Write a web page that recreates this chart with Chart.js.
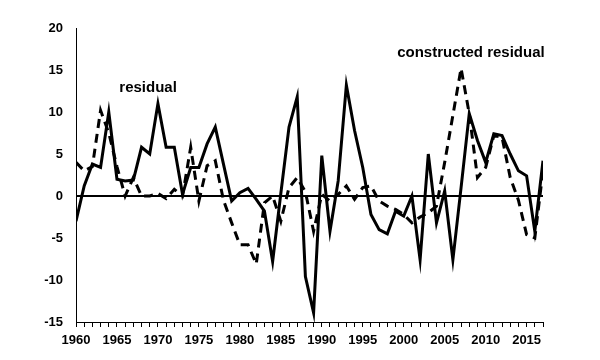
<!DOCTYPE html>
<html>
<head>
<meta charset="utf-8">
<script src="https://cdn.jsdelivr.net/npm/chart.js@4/dist/chart.umd.min.js"></script>
<style>
  html, body { margin: 0; padding: 0; background: #fff; }
  #wrap { width: 600px; height: 360px; }
</style>
</head>
<body>
<div id="wrap"><canvas id="residual-chart"></canvas></div>
<script>
// years on the x axis
let years = [1960,1961,1962,1963,1964,1965,1966,1967,1968,1969,
             1970,1971,1972,1973,1974,1975,1976,1977,1978,1979,
             1980,1981,1982,1983,1984,1985,1986,1987,1988,1989,
             1990,1991,1992,1993,1994,1995,1996,1997,1998,1999,
             2000,2001,2002,2003,2004,2005,2006,2007,2008,2009,
             2010,2011,2012,2013,2014,2015,2016,2017];
// residual (solid line)
let residual = [-3, 1.2, 3.8, 3.4, 10, 2.0, 1.8, 1.9, 5.8, 5,
                11, 5.8, 5.8, 0.2, 3.4, 3.4, 6.2, 8.2, 3.8, -0.6,
                0.4, 0.9, -0.4, -1.8, -7.8, 0.3, 8.2, 11.8, -9.6, -13.9,
                4.8, -4.2, 1.8, 13.2, 7.8, 3.4, -2.2, -4, -4.5, -1.8,
                -2.4, 0, -7.6, 5, -3.2, 0.6, -7.6, 1, 9.8, 6.6,
                4, 7.4, 7.2, 5, 3, 2.4, -4.2, 4.2];
// constructed residual (dashed line)
let constructed = [4, 3, 3.5, 10.2, 7.5, 3.5, 0, 2.2, 0, 0,
                   0.3, -0.3, 0.8, 0, 5.8, -0.6, 3.6, 4.2, -0.5, -3.2,
                   -5.8, -5.8, -8.1, -0.8, 0, -3, 1, 2.2, 0.5, -4.2,
                   0.2, -0.6, 0.2, 1.2, -0.4, 1, 1.2, -0.6, -1.2, -1.6,
                   -2.2, -3.2, -2.5, -2, -1.2, 4, 9.6, 15.2, 9.8, 2.2,
                   3.4, 7.2, 7, 2.2, -0.5, -4.6, -5, 3];
// y axis ticks
let y_min = -15, y_max = 20, y_step = 5;

let font = {family: 'Liberation Sans, Arial, sans-serif', size: 13, weight: 'bold'};

// labels written inside the plot
let text_labels = [
    {text: 'residual', x: 1968.8, y: 12.9},
    {text: 'constructed residual', x: 2008.2, y: 17}
];

let labels_plugin = {
    id: 'textLabels',
    afterDatasetsDraw(chart) {
        let ctx = chart.ctx;
        ctx.save();
        ctx.fillStyle = '#000';
        ctx.font = 'bold 15px Liberation Sans, Arial, sans-serif';
        ctx.textAlign = 'center';
        ctx.textBaseline = 'middle';
        text_labels.forEach(l => {
            ctx.fillText(l.text, chart.scales.x.getPixelForValue(l.x), chart.scales.y.getPixelForValue(l.y));
        });
        ctx.restore();
    }
};

let residual_chart = new Chart(document.getElementById('residual-chart').getContext('2d'), {
    type: 'line',
    data: {
        datasets: [{
            label: 'residual',
            data: years.map((y, i) => ({x: y, y: residual[i]})),
            borderColor: '#000',
            borderWidth: 3,
            pointRadius: 0,
            tension: 0
        }, {
            label: 'constructed residual',
            data: years.map((y, i) => ({x: y, y: constructed[i]})),
            borderColor: '#000',
            borderWidth: 3,
            borderDash: [9, 6],
            pointRadius: 0,
            tension: 0
        }]
    },
    options: {
        responsive: true,
        maintainAspectRatio: false,
        animation: false,
        layout: {padding: {top: 28, right: 57, left: 0, bottom: 0}},
        plugins: {legend: {display: false}, tooltip: {enabled: false}},
        scales: {
            x: {
                type: 'linear',
                min: years[0],
                max: years[years.length - 1],
                afterFit: s => { s.height = 38; },
                border: {color: '#000', width: 1},
                grid: {drawOnChartArea: false, drawTicks: true, tickLength: 5, color: '#000'},
                ticks: {
                    stepSize: 1,
                    autoSkip: false,
                    maxRotation: 0,
                    color: '#000',
                    font: font,
                    padding: 6,
                    callback: v => (v % 5 === 0 ? String(v) : '')
                }
            },
            y: {
                min: y_min,
                max: y_max,
                afterFit: s => { s.width = 76; },
                border: {color: '#000', width: 1},
                grid: {
                    drawTicks: false,
                    color: c => (c.tick && c.tick.value === 0 ? '#000' : 'rgba(0,0,0,0)'),
                    lineWidth: c => (c.tick && c.tick.value === 0 ? 2 : 0)
                },
                ticks: {stepSize: y_step, color: '#000', font: font, padding: 13}
            }
        }
    },
    plugins: [labels_plugin]
});
</script>
</body>
</html>
